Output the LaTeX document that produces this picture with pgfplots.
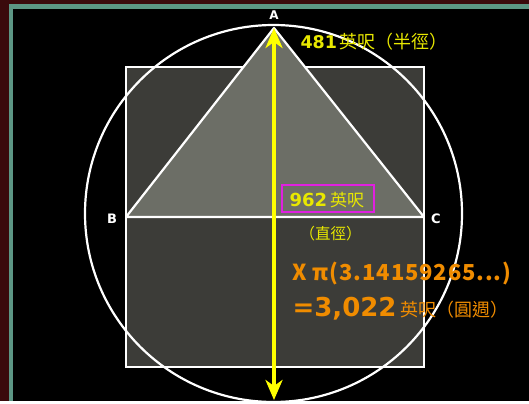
\documentclass[border=0pt]{standalone}
\usepackage{pgfplots}
\pgfplotsset{compat=1.18}
\usetikzlibrary{arrows.meta}
\usepackage{fontspec}
\setmainfont{DejaVu Sans}
\newfontfamily\cjk{Noto Sans CJK TC}
\newfontfamily\cjkls[LetterSpace=4]{Noto Sans CJK TC}
\definecolor{outerred}{HTML}{3A0A0C}
\definecolor{frameteal}{HTML}{5C9684}
\definecolor{sqgray}{HTML}{3C3C38}
\definecolor{trigray}{HTML}{6C6E66}
\definecolor{ylw}{HTML}{FFFF00}
\definecolor{ytxt}{HTML}{E8E800}
\definecolor{orng}{HTML}{F08C00}
\definecolor{mgnt}{HTML}{E020E0}
\begin{document}
\begin{tikzpicture}
\begin{axis}[
    scale only axis,
    width=529pt, height=401pt,
    xmin=0, xmax=529, ymin=0, ymax=401,
    y dir=reverse,
    axis lines=none,
    clip=false,
    every node/.style={inner sep=0pt},
]
% background frame
\addplot[draw=none, fill=outerred] coordinates {(0,0) (529,0) (529,401) (0,401)} -- cycle;
\addplot[draw=none, fill=frameteal] coordinates {(9,4) (529,4) (529,401) (9,401)} -- cycle;
\addplot[draw=none, fill=black] coordinates {(13,9.5) (529,9.5) (529,401) (13,401)} -- cycle;

% square
\addplot[white, line width=2.2pt, fill=sqgray] coordinates {(126,67) (424,67) (424,367) (126,367)} -- cycle;
% triangle A B C
\addplot[white, line width=2.2pt, fill=trigray, line join=round] coordinates {(274,28) (126,217) (424,217)} -- cycle;
% horizontal diameter B-C
\addplot[white, line width=2.2pt] coordinates {(126,217) (424,217)};
% circle
\draw[white, line width=2.2pt] (axis cs:273.5,213.5) circle[radius=188.5];

% yellow double arrow
\addplot[ylw, line width=3.6pt, {Stealth[length=20pt,width=17pt,inset=6pt]}-{Stealth[length=20pt,width=17pt,inset=6pt]}]
    coordinates {(274,28) (274,400)};

% vertex labels
\node[white, font=\bfseries\fontsize{12}{12}\selectfont] at (axis cs:274,15) {A};
\node[white, font=\bfseries\fontsize{13}{13}\selectfont] at (axis cs:112,219) {B};
\node[white, font=\bfseries\fontsize{13}{13}\selectfont] at (axis cs:436,219) {C};

% radius label
\node[anchor=base west, ytxt] at (axis cs:297,49)
    {\bfseries\fontsize{17.5}{18}\selectfont 481\,{\mdseries\cjk\fontsize{18}{18}\selectfont 英呎（半徑）}};

% diameter label with box
\addplot[mgnt, line width=1.8pt] coordinates {(282,185) (374,185) (374,212) (282,212)} -- cycle;
\node[anchor=base west, ytxt] at (axis cs:286,207)
    {\bfseries\fontsize{18}{18}\selectfont 962\,{\mdseries\cjk\fontsize{17}{18}\selectfont 英呎}};
\node[anchor=base west, ytxt] at (axis cs:296,239)
    {\cjk\fontsize{15.5}{18}\selectfont （直徑）};

% pi line
\node[anchor=base west, orng] at (axis cs:289,280)
    {\cjkls\bfseries\fontsize{22}{26}\selectfont X π(3.14159265...)};
% circumference
\node[anchor=base west, orng] at (axis cs:289,316)
    {\bfseries\fontsize{26}{26}\selectfont =3,022\,{\mdseries\cjk\fontsize{18}{18}\selectfont 英呎（圓週）}};
\end{axis}
\end{tikzpicture}
\end{document}
